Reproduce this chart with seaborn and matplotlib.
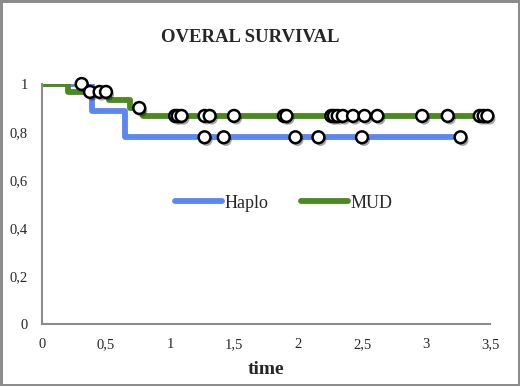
import numpy as np
import matplotlib
matplotlib.use("Agg")
import matplotlib.pyplot as plt
import matplotlib.patheffects as pe
import seaborn as sns

# Kaplan-Meier step curves
haplo_t = [0, 0.39, 0.65, 3.27]
haplo_s = [1.0, 0.889, 0.778, 0.778]
mud_t = [0, 0.20, 0.52, 0.69, 0.79, 3.48]
mud_s = [1.0, 0.967, 0.933, 0.900, 0.867, 0.867]

# censored times
haplo_cens = [0.31, 1.27, 1.42, 1.98, 2.16, 2.50, 3.27]
mud_cens = [0.375, 0.45, 0.50, 0.76, 1.04, 1.06, 1.09, 1.27, 1.31, 1.50,
            1.89, 1.91, 2.26, 2.28, 2.31, 2.35, 2.43, 2.52, 2.62, 2.97,
            3.17, 3.42, 3.45, 3.48]

x_ticks = [0, 0.5, 1, 1.5, 2, 2.5, 3, 3.5]
y_ticks = [0, 0.2, 0.4, 0.6, 0.8, 1]

blue = "#5b87f2"
green = "#4a8a1e"
gray = "#8c8c8c"


def surv_at(times, surv, t):
    idx = np.searchsorted(times, t, side="right") - 1
    return np.asarray(surv)[idx]


sns.set_style("white")
plt.rcParams["font.family"] = ["Liberation Serif", "DejaVu Serif"]

fig = plt.figure(figsize=(5.2, 3.86), dpi=100)
fig.patch.set_edgecolor(gray)
fig.patch.set_linewidth(2.5)
ax = fig.add_axes([42 / 520, 1 - 324 / 386, 448 / 520, 240 / 386])

sns.lineplot(x=haplo_t, y=haplo_s, drawstyle="steps-post", color=blue,
             linewidth=4.2, label="Haplo", ax=ax, solid_capstyle="butt")
sns.lineplot(x=mud_t, y=mud_s, drawstyle="steps-post", color=green,
             linewidth=4.2, label="MUD", ax=ax, solid_capstyle="butt")

shadow = [pe.SimplePatchShadow(offset=(1.5, -2), shadow_rgbFace="black", alpha=0.35),
          pe.Normal()]
for cens, t, s in [(haplo_cens, haplo_t, haplo_s), (mud_cens, mud_t, mud_s)]:
    ys = surv_at(t, s, np.array(cens))
    ax.plot(cens, ys, "o", ms=8.5, mfc="white", mec="black", mew=1.8,
            clip_on=False, zorder=5, path_effects=shadow)

ax.set_xlim(0, 3.5)
ax.set_ylim(0, 1)
ax.set_xticks(x_ticks)
ax.set_yticks(y_ticks)
ax.set_xticklabels([("%g" % v).replace(".", ",") for v in x_ticks])
ax.set_yticklabels([("%g" % v).replace(".", ",") for v in y_ticks])
ax.tick_params(axis="both", direction="inout", length=6, width=1.3,
               color=gray, labelsize=10.5, pad=7)
for side in ["top", "right"]:
    ax.spines[side].set_visible(False)
for side in ["left", "bottom"]:
    ax.spines[side].set_color(gray)
    ax.spines[side].set_linewidth(1.5)

ax.set_xlabel("time", fontsize=14, fontweight="bold", labelpad=7)
ax.set_ylabel("")
fig.text(250 / 520, 1 - 37 / 386, "OVERAL SURVIVAL", ha="center", va="center",
         fontsize=13.5, fontweight="bold")

leg = ax.legend(loc="center", bbox_to_anchor=(0.539, 0.504), ncol=2, frameon=False,
                fontsize=13, handlelength=2.6, handletextpad=0.15, columnspacing=1.8)
for h in leg.get_lines():
    h.set_solid_capstyle("round")

fig.savefig("out.png", dpi=100)
